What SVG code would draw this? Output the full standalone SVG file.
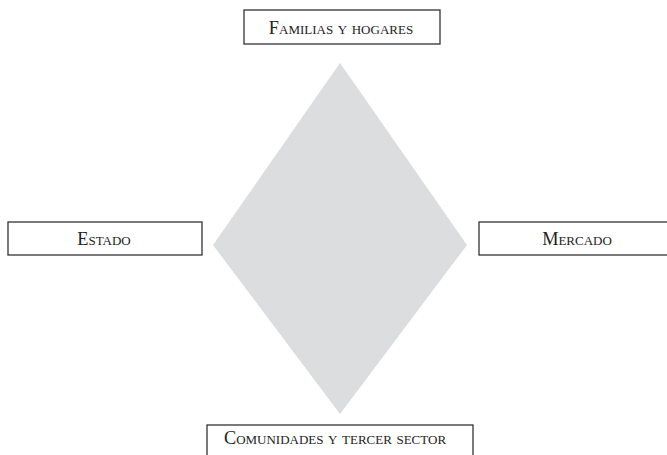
<svg xmlns="http://www.w3.org/2000/svg" width="667" height="455" viewBox="0 0 667 455">
<style>
.box{fill:#fff;stroke:#333;stroke-width:1.3}
.lbl{font-family:"Liberation Serif","Times New Roman",serif;font-size:18.3px;font-variant:small-caps;fill:#222;text-anchor:middle}
</style>
<rect width="667" height="455" fill="#fff"/>
<g id="diamond"><polygon points="340,63 467,245 340,414 213,245" fill="#dcdddf"/></g>
<g id="connectors"></g>
<g id="familias"><rect class="box" x="244" y="10" width="196" height="34"/><text class="lbl" x="341" y="34">Familias y hogares</text></g>
<g id="estado"><rect class="box" x="8" y="222" width="194" height="33"/><text class="lbl" x="104" y="245">Estado</text></g>
<g id="mercado"><rect class="box" x="479" y="222" width="200" height="33"/><text class="lbl" x="577" y="245">Mercado</text></g>
<g id="comunidades"><rect class="box" x="207" y="425" width="266" height="40"/><text class="lbl" x="335" y="444">Comunidades y tercer sector</text></g>
</svg>
